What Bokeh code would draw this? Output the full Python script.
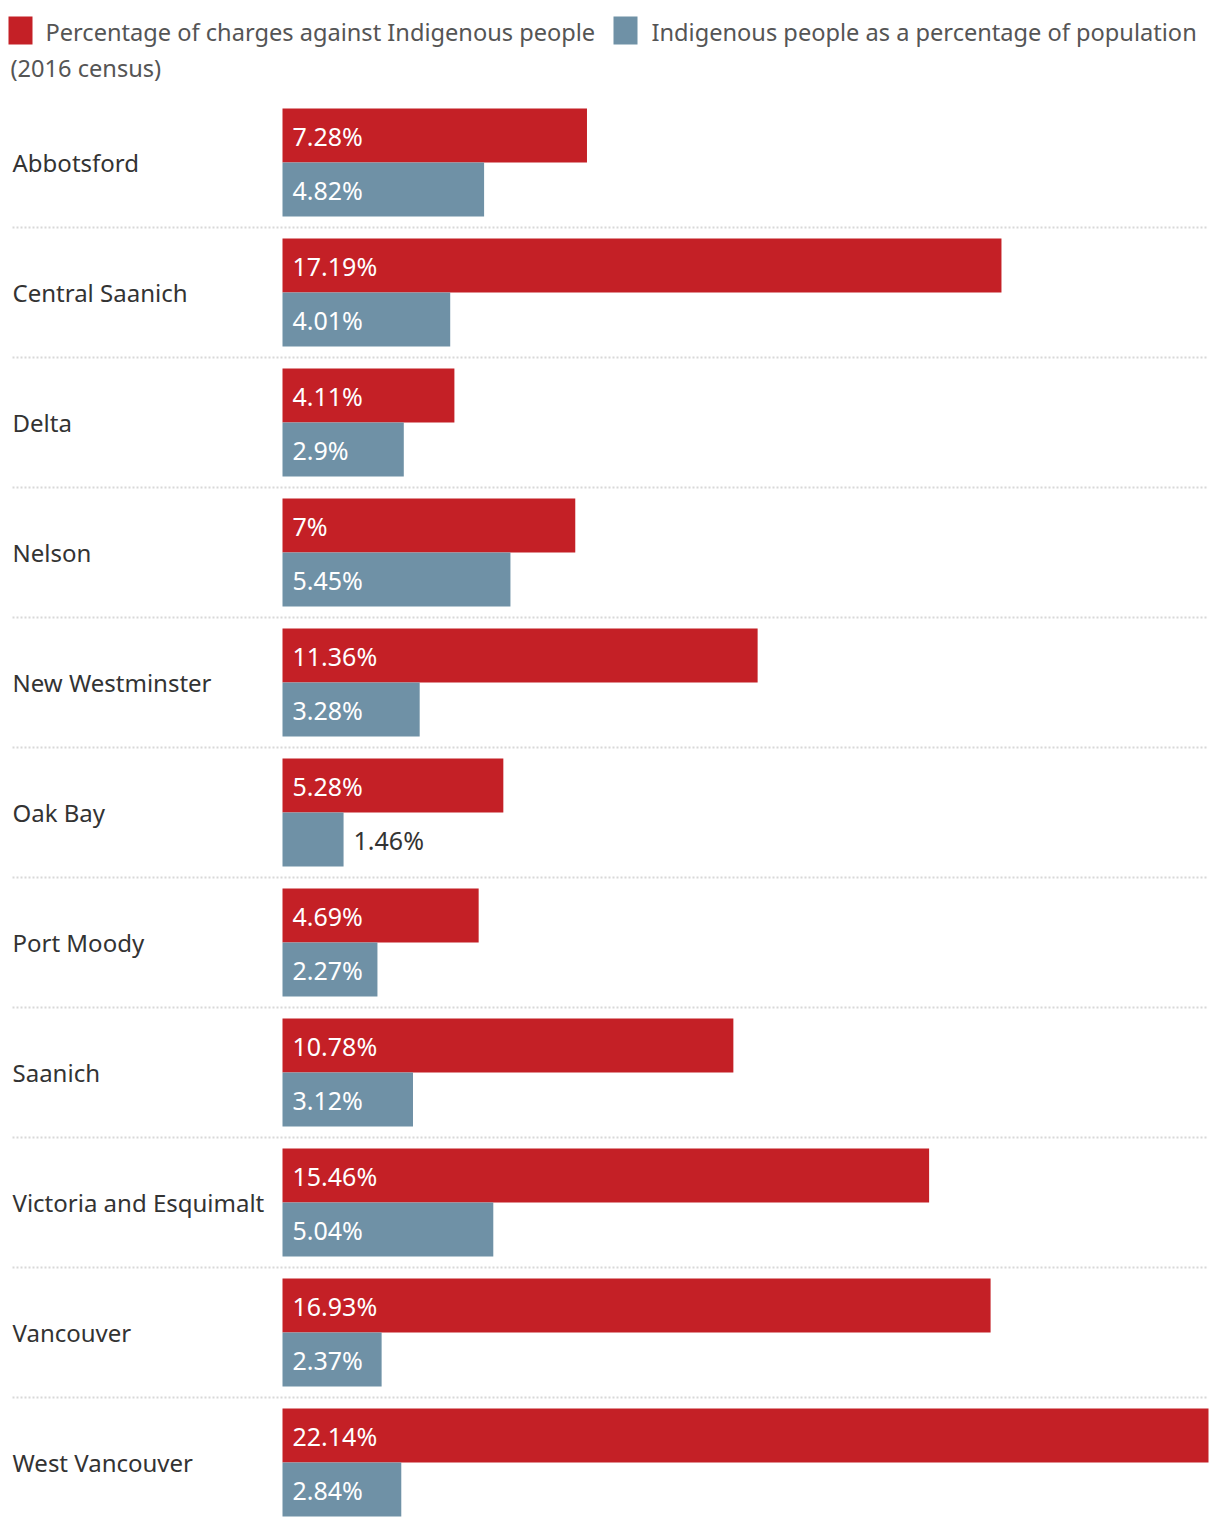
from bokeh.plotting import figure
from bokeh.models import Range1d
from bokeh.core.properties import value
from bokeh.embed import file_html
from bokeh.resources import INLINE

cities = ["Abbotsford", "Central Saanich", "Delta", "Nelson", "New Westminster",
          "Oak Bay", "Port Moody", "Saanich", "Victoria and Esquimalt",
          "Vancouver", "West Vancouver"]
charges = [7.28, 17.19, 4.11, 7.0, 11.36, 5.28, 4.69, 10.78, 15.46, 16.93, 22.14]
population = [4.82, 4.01, 2.9, 5.45, 3.28, 1.46, 2.27, 3.12, 5.04, 2.37, 2.84]
charges_labels = ["7.28%", "17.19%", "4.11%", "7%", "11.36%", "5.28%", "4.69%",
                  "10.78%", "15.46%", "16.93%", "22.14%"]
population_labels = ["4.82%", "4.01%", "2.9%", "5.45%", "3.28%", "1.46%", "2.27%",
                     "3.12%", "5.04%", "2.37%", "2.84%"]
series_names = ["Percentage of charges against Indigenous people",
                "Indigenous people as a percentage of population"]
legend_line2 = "(2016 census)"

RED = "#C42026"
BLUE = "#6F91A6"
FONT = "Noto Sans"
CITY_SIZE = "24px"
LEGEND_SIZE = "23.6px"
VALUE_SIZE = "25px"

ORIGIN = 0
FIG_W, FIG_H = 1212, 1520
SCALE = 926 / 22.14          # pixels per percent
ROW = 130.0                  # pixels per city row
x_start = -(282 - ORIGIN) / SCALE
x_end = x_start + FIG_W / SCALE


def px_x(px):
    return x_start + (px - ORIGIN) / SCALE


def px_y(py):
    return (py - 162) / ROW


p = figure(width=FIG_W, height=FIG_H, output_backend="svg", toolbar_location=None,
           x_range=Range1d(x_start, x_end),
           y_range=Range1d(px_y(ORIGIN + FIG_H), px_y(ORIGIN)),
           x_axis_location=None, y_axis_location=None, min_border=0,
           tools="")
p.outline_line_color = None
p.xgrid.visible = False
p.ygrid.visible = False
p.background_fill_color = "white"
p.border_fill_color = "white"

n = len(cities)
idx = list(range(n))
half = 54 / ROW

# separators
sep_y = [i + 0.5 for i in range(n - 1)]
p.segment(x0=[px_x(12)] * len(sep_y), x1=[px_x(1208)] * len(sep_y), y0=sep_y, y1=sep_y,
          line_color="#d8d8d8", line_width=2, line_dash="2 2")

p.hbar(y=[i - half / 2 for i in idx], left=0, right=charges, height=half,
       fill_color=RED, line_color=None)
p.hbar(y=[i + half / 2 for i in idx], left=0, right=population, height=half,
       fill_color=BLUE, line_color=None)

# city labels
p.text(x=[px_x(12)] * n, y=idx, text=cities, text_font=value(FONT),
       text_font_size=CITY_SIZE, text_color="#333333", text_baseline="middle",
       text_align="left")


def value_labels(vals, labels, ys):
    in_x, in_y, in_t, out_x, out_y, out_t = [], [], [], [], [], []
    for v, lab, y in zip(vals, labels, ys):
        if v * SCALE < 85:
            out_x.append(v); out_y.append(y); out_t.append(lab)
        else:
            in_x.append(0); in_y.append(y); in_t.append(lab)
    p.text(x=in_x, y=in_y, text=in_t, x_offset=10, text_font=value(FONT),
           text_font_size=VALUE_SIZE, text_color="white", text_baseline="middle")
    p.text(x=out_x, y=out_y, text=out_t, x_offset=10, text_font=value(FONT),
           text_font_size=VALUE_SIZE, text_color="#333333", text_baseline="middle")


value_labels(charges, charges_labels, [i - half / 2 for i in idx])
value_labels(population, population_labels, [i + half / 2 for i in idx])

# legend
sq_h = 28 / ROW
p.rect(x=[px_x(20), px_x(625)], y=[px_y(30), px_y(30)], width=24 / SCALE, height=sq_h,
       fill_color=[RED, BLUE], line_color=None)
p.text(x=[px_x(45), px_x(651)], y=[px_y(31), px_y(31)], text=series_names,
       text_font=value(FONT), text_font_size=LEGEND_SIZE, text_color="#555555",
       text_baseline="middle")
p.text(x=[px_x(10)], y=[px_y(67)], text=[legend_line2],
       text_font=value(FONT), text_font_size=LEGEND_SIZE, text_color="#555555",
       text_baseline="middle")

open("out.html", "w").write(file_html(p, INLINE))
